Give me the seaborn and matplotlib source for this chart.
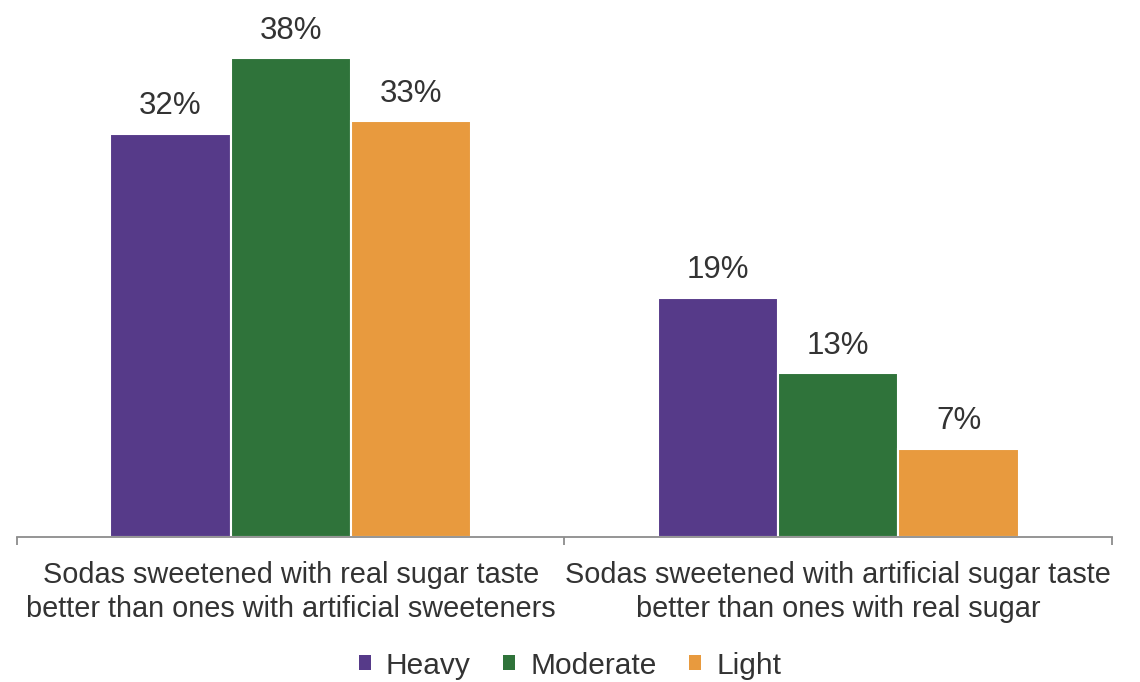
import matplotlib
matplotlib.use("Agg")
import matplotlib.pyplot as plt
import seaborn as sns
import pandas as pd
from matplotlib.patches import Patch

categories = [
    "Sodas sweetened with real sugar taste\nbetter than ones with artificial sweeteners",
    "Sodas sweetened with artificial sugar taste\nbetter than ones with real sugar",
]
series = ["Heavy", "Moderate", "Light"]
heavy = [32, 19]
moderate = [38, 13]
light = [33, 7]
colors = ["#563A89", "#2F733A", "#E89A3E"]

rows = []
for s, vals in zip(series, [heavy, moderate, light]):
    for c, v in zip(categories, vals):
        rows.append({"category": c, "group": s, "value": v})
df = pd.DataFrame(rows)

sns.set_theme(style="white")
plt.rcParams["font.family"] = ["Liberation Sans", "DejaVu Sans"]
text_color = "#333333"
axis_gray = "#8C8C8C"

fig = plt.figure(figsize=(11.4, 6.82), dpi=100)
ax = fig.add_axes([0.01491, 0.21261, 0.96053, 0.73900])

sns.barplot(data=df, x="category", y="value", hue="group", order=categories,
            hue_order=series, palette=colors, width=0.66, ax=ax,
            edgecolor="white", linewidth=1.5, saturation=1, legend=False)

for cont in ax.containers:
    ax.bar_label(cont, fmt="{:.0f}%", padding=9, fontsize=22.5, color=text_color)

ax.set_xlim(-0.5, 1.5)
ax.set_ylim(0, 40)
ax.set_xlabel("")
ax.set_ylabel("")
ax.set_yticks([])
for side in ["left", "right", "top"]:
    ax.spines[side].set_visible(False)
ax.spines["bottom"].set_color(axis_gray)
ax.spines["bottom"].set_linewidth(1.3)

ax.set_xticks([0, 1])
ax.set_xticklabels(categories, fontsize=20.8, color=text_color, linespacing=1.3)
ax.tick_params(axis="x", which="major", length=0, pad=17)
ax.set_xticks([-0.5, 0.5, 1.5], minor=True)
ax.tick_params(axis="x", which="minor", length=6, width=1.3, color=axis_gray,
               direction="out", bottom=True)

handles = [Patch(facecolor=c, edgecolor="none", label=s) for c, s in zip(colors, series)]
fig.legend(handles=handles, loc="center", bbox_to_anchor=(0.5, 0.024), ncol=3,
           frameon=False, fontsize=21.5, handlelength=0.4, handleheight=0.4,
           handletextpad=0.5, columnspacing=1.1, labelcolor=text_color)

fig.savefig("out.png", dpi=100, facecolor="white")
